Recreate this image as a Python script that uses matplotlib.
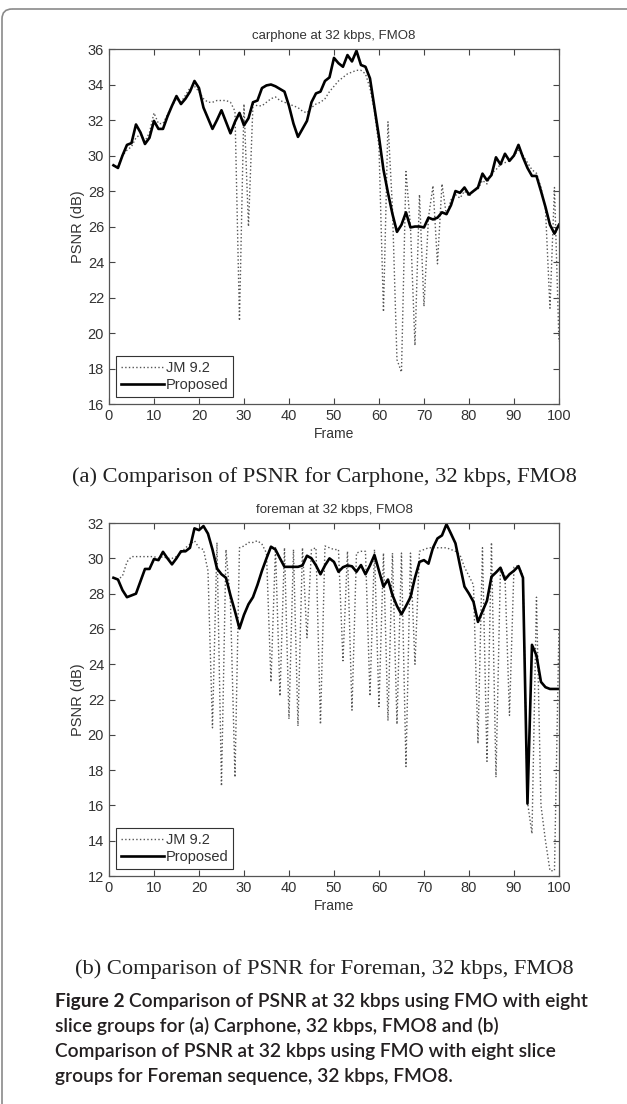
import numpy as np
import matplotlib
matplotlib.use("Agg")
import matplotlib.pyplot as plt
import matplotlib.patches as patches

# frames 1..100
frames = np.arange(1, 101)

# carphone, 32 kbps, FMO8
car_jm = [29.4, 29.4, 30.0, 30.3, 30.5, 31.0, 31.2, 30.8, 31.3, 32.4,
          31.8, 31.8, 32.3, 32.8, 33.2, 33.0, 33.4, 33.8, 33.9, 33.6,
          33.2, 33.0, 33.0, 33.1, 33.1, 33.1, 33.0, 32.5, 20.7, 32.9,
          26.0, 32.9, 32.8, 32.8, 33.0, 33.2, 33.3, 33.1, 33.0, 32.9,
          32.8, 32.7, 32.5, 32.4, 32.7, 32.9, 33.0, 33.2, 33.6, 33.9,
          34.2, 34.4, 34.6, 34.7, 34.8, 34.8, 34.6, 33.8, 32.5, 30.5,
          21.2, 31.9, 27.0, 18.5, 17.8, 29.1, 26.0, 19.3, 27.8, 21.5,
          26.5, 28.3, 23.9, 28.4, 26.6, 27.5, 27.8, 27.6, 28.0, 27.7,
          28.0, 28.1, 28.6, 28.4, 29.0, 29.2, 29.5, 29.6, 29.7, 30.0,
          30.3, 30.0, 29.6, 29.2, 29.0, 28.2, 27.0, 21.4, 28.2, 19.5]
car_prop = [29.45, 29.3, 30.0, 30.6, 30.7, 31.75, 31.3, 30.65, 31.0, 31.95,
            31.5, 31.5, 32.2, 32.8, 33.35, 32.9, 33.2, 33.6, 34.2, 33.8,
            32.7, 32.1, 31.5, 32.0, 32.55, 31.9, 31.25, 31.9, 32.4, 31.7,
            32.1, 33.0, 33.1, 33.8, 33.95, 34.0, 33.9, 33.75, 33.6, 32.8,
            31.8, 31.05, 31.5, 31.95, 33.0, 33.5, 33.6, 34.2, 34.4, 35.5,
            35.2, 35.0, 35.66, 35.3, 35.9, 35.1, 35.0, 34.35, 32.7, 31.05,
            29.2, 27.9, 26.7, 25.7, 26.1, 26.8, 25.95, 26.0, 26.0, 25.95,
            26.5, 26.4, 26.5, 26.8, 26.7, 27.2, 28.0, 27.9, 28.2, 27.8,
            28.0, 28.2, 28.98, 28.6, 28.9, 29.9, 29.5, 30.1, 29.7, 30.0,
            30.6, 29.9, 29.3, 28.85, 28.85, 28.0, 27.1, 26.1, 25.6, 26.1]

# foreman, 32 kbps, FMO8
for_jm = [28.9, 28.8, 29.0, 29.8, 30.1, 30.1, 30.1, 30.1, 30.1, 30.1,
          30.0, 30.1, 30.0, 30.0, 30.1, 30.3, 30.6, 30.8, 31.0, 30.6,
          30.5, 29.3, 20.4, 30.9, 17.1, 30.5, 27.5, 17.6, 30.6, 30.7,
          30.9, 30.9, 31.0, 30.8, 30.3, 23.0, 30.6, 22.2, 30.6, 20.9,
          30.5, 20.5, 30.6, 25.5, 30.5, 30.6, 20.6, 30.7, 30.6, 30.5,
          30.5, 24.2, 30.4, 21.4, 30.3, 30.4, 30.4, 22.2, 30.5, 21.6,
          30.3, 20.8, 30.3, 20.6, 30.3, 18.2, 30.3, 24.0, 30.4, 30.5,
          30.6, 30.6, 30.6, 30.6, 30.6, 30.5, 30.4, 30.2, 29.5, 29.0,
          28.5, 19.5, 30.6, 18.5, 30.9, 17.6, 29.5, 29.0, 21.1, 29.5,
          29.6, 29.0, 16.2, 14.4, 27.8, 16.0, 14.0, 12.3, 12.3, 26.0]
for_prop = [28.9, 28.8, 28.2, 27.8, 27.9, 28.0, 28.7, 29.4, 29.4, 29.96,
            29.9, 30.37, 30.0, 29.66, 30.0, 30.4, 30.4, 30.6, 31.7, 31.6,
            31.83, 31.4, 30.5, 29.43, 29.1, 28.9, 27.9, 27.0, 26.03, 26.8,
            27.4, 27.8, 28.5, 29.3, 30.0, 30.66, 30.5, 30.0, 29.52, 29.52,
            29.52, 29.52, 29.6, 30.15, 30.0, 29.6, 29.1, 29.6, 30.0, 29.8,
            29.24, 29.5, 29.6, 29.55, 29.24, 29.62, 29.1, 29.6, 30.19, 29.3,
            28.4, 28.8, 27.92, 27.3, 26.83, 27.3, 27.8, 28.9, 29.8, 29.9,
            29.7, 30.6, 31.13, 31.3, 31.93, 31.4, 30.85, 29.6, 28.4, 28.0,
            27.54, 26.4, 27.0, 27.6, 28.96, 29.2, 29.47, 28.8, 29.1, 29.3,
            29.56, 28.9, 16.1, 25.1, 24.5, 23.0, 22.7, 22.6, 22.6, 22.6]

panels = [
    ("carphone at 32 kbps, FMO8", car_jm, car_prop, (16, 36), [0.1738, 0.634, 0.7177, 0.3216]),
    ("foreman at 32 kbps, FMO8", for_jm, for_prop, (12, 32), [0.1738, 0.2065, 0.7177, 0.3197]),
]

fig = plt.figure(figsize=(6.27, 11.04), dpi=100)
fig.patch.set_facecolor("white")

# page frame (rounded corner top-left)
bg = fig.add_axes([0, 0, 1, 1])
bg.set_xlim(0, 627)
bg.set_ylim(1104, 0)
bg.axis("off")
bg.add_patch(patches.FancyBboxPatch((2, 9), 700, 1200, boxstyle="round,pad=0,rounding_size=10",
                                    linewidth=1.2, edgecolor="#8a8a8a", facecolor="none"))

sans = ["Liberation Sans", "DejaVu Sans"]
for title, jm, prop, ylim, pos in panels:
    ax = fig.add_axes(pos)
    ax.plot(frames, jm, linestyle=":", color="#555555", linewidth=1.0, label="JM 9.2")
    ax.plot(frames, prop, linestyle="-", color="black", linewidth=1.9, label="Proposed")
    ax.set_xlim(0, 100)
    ax.set_ylim(*ylim)
    ax.set_xticks(np.arange(0, 101, 10))
    ax.set_yticks(np.arange(ylim[0], ylim[1] + 1, 2))
    ax.tick_params(direction="in", top=True, right=True, length=4, width=0.8,
                   colors="#444444", labelsize=10.5, labelcolor="#333333")
    for lab in ax.get_xticklabels() + ax.get_yticklabels():
        lab.set_family(sans)
    for s in ax.spines.values():
        s.set_color("#555555")
        s.set_linewidth(0.9)
    ax.set_title(title, fontsize=9.5, family=sans, color="#333333", pad=7)
    ax.set_xlabel("Frame", fontsize=10, family=sans, color="#333333", labelpad=3)
    ax.set_ylabel("PSNR (dB)", fontsize=10.5, family=sans, color="#333333", labelpad=2)
    leg = ax.legend(loc="lower left", handlelength=3.0, handletextpad=0.1,
                    borderaxespad=0.5, borderpad=0.3, labelspacing=0.25, fancybox=False,
                    framealpha=1, prop={"family": sans, "size": 10.5})
    leg.get_frame().set_edgecolor("#333333")
    leg.get_frame().set_linewidth(0.8)
    for t in leg.get_texts():
        t.set_color("#333333")

serif = ["Liberation Serif", "DejaVu Serif"]
fig.text(324 / 627, 1 - 477 / 1104, "(a) Comparison of PSNR for Carphone, 32 kbps, FMO8",
         ha="center", va="center", fontsize=16.2, family=serif, color="#222222")
fig.text(324 / 627, 1 - 969 / 1104, "(b) Comparison of PSNR for Foreman, 32 kbps, FMO8",
         ha="center", va="center", fontsize=16.2, family=serif, color="#222222")

# figure caption with bold lead-in
cap_font = ["Lato", "DejaVu Sans"]
lines = ["Comparison of PSNR at 32 kbps using FMO with eight",
         "slice groups for (a) Carphone, 32 kbps, FMO8 and (b)",
         "Comparison of PSNR at 32 kbps using FMO with eight slice",
         "groups for Foreman sequence, 32 kbps, FMO8."]
baselines = [1007, 1032, 1057, 1082]
x0 = 55 / 627
lead = fig.text(x0, 1 - baselines[0] / 1104, "Figure 2 ", ha="left", va="baseline",
                fontsize=13.8, family=cap_font, weight="bold", color="#231f20")
fig.canvas.draw()
bb = lead.get_window_extent(fig.canvas.get_renderer())
fig.text(bb.x1 / fig.bbox.width, 1 - baselines[0] / 1104, lines[0], ha="left", va="baseline",
         fontsize=13.8, family=cap_font, weight="semibold", color="#231f20")
for txt, b in zip(lines[1:], baselines[1:]):
    fig.text(x0, 1 - b / 1104, txt, ha="left", va="baseline",
             fontsize=13.8, family=cap_font, weight="semibold", color="#231f20")

fig.savefig("out.png", dpi=100, facecolor="white")
